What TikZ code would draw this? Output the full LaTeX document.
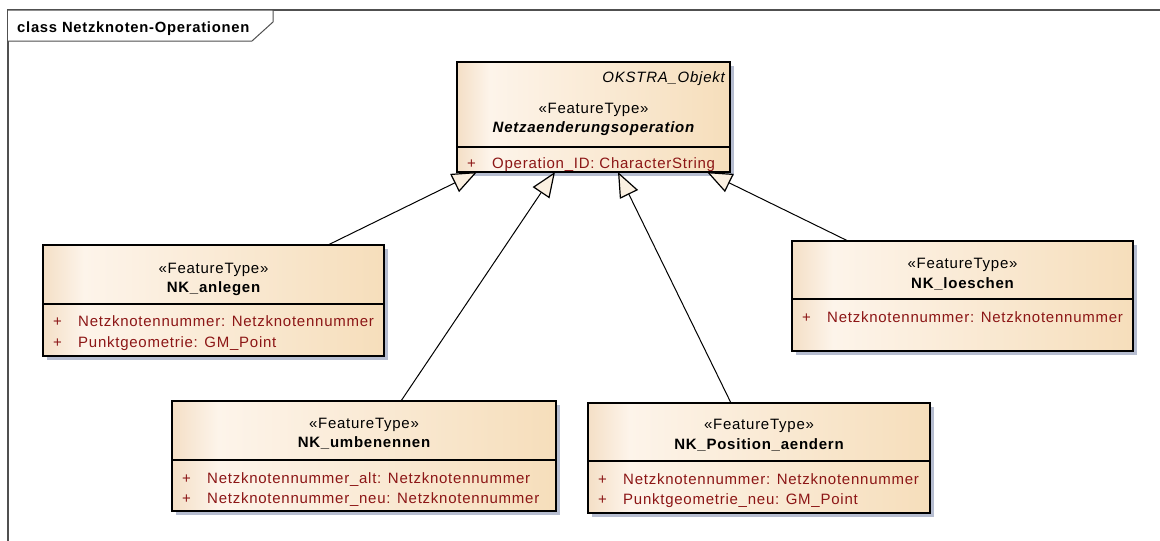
\documentclass[tikz,border=0pt]{standalone}
\usepackage{fontspec}
\setmainfont{Liberation Sans}
\newfontfamily\umlfont[LetterSpace=5.0]{Liberation Sans}
\usetikzlibrary{arrows.meta,shadows}
\definecolor{shA}{HTML}{F4DFC6}
\definecolor{shB}{HTML}{FDF4EA}
\definecolor{shC}{HTML}{F6DEBB}
\definecolor{shadowc}{HTML}{B6BDD0}
\definecolor{attrc}{RGB}{140,22,22}
\definecolor{arrowc}{HTML}{FBF0E1}
\definecolor{framec}{HTML}{505050}
\pgfdeclarehorizontalshading{boxshade}{100bp}{color(0bp)=(shA); color(25bp)=(shA); color(31bp)=(shB); color(75bp)=(shC); color(100bp)=(shC)}
\tikzset{
  classbox/.style={draw=black, line width=1.2pt, shading=boxshade, minimum width=#1, inner sep=0pt, outer sep=0pt,
    drop shadow={shadow xshift=4pt, shadow yshift=-4pt, fill=shadowc, opacity=1}},
  txt/.style={font=\umlfont\fontsize{15}{17}\selectfont, inner sep=0pt, anchor=base},
  stereo/.style={txt},
  cname/.style={txt, font=\umlfont\fontsize{15}{17}\selectfont\bfseries},
  attr/.style={txt, anchor=base west, text=attrc},
  divider/.style={draw=black, line width=1.2pt},
  gen/.style={draw=black, line width=1pt, -{Triangle[length=25pt,width=20pt,fill=arrowc,line width=1.2pt]}},
}
\newcommand{\attrline}[1]{\makebox[25pt][l]{+}#1}
\begin{document}
\begin{tikzpicture}[x=1pt,y=-1pt]
\useasboundingbox (0,0) rectangle (1160,541);
% frame
\draw[framec, line width=1.2pt] (8,541) -- (8,10) -- (1160,10);
\draw[framec, line width=1pt, fill=white] (8,10) -- (273,10) -- (273,22) -- (252,41) -- (8,41);
\node[txt, anchor=base west, font=\umlfont\fontsize{14.8}{17}\selectfont\bfseries] (title) at (17,32) {class Netzknoten-Operationen};

% main class
\node[classbox=273pt, minimum height=110pt] (main) at (593.5,117) {};
\draw[divider] ([yshift=-85pt]main.north west) -- ([yshift=-85pt]main.north east);
\node[txt, anchor=base east, font=\umlfont\fontsize{15}{17}\selectfont\itshape] (mainparent) at (725,82) {OKSTRA\_Objekt};
\node[stereo] (mainst) at (593.5,113) {«FeatureType»};
\node[cname, font=\umlfont\fontsize{15}{17}\selectfont\bfseries\itshape] (mainname) at (593.5,132) {Netzaenderungsoperation};
\node[attr] (maina1) at (467,168) {\attrline{Operation\_ID: CharacterString}};

% NK_anlegen
\node[classbox=341pt, minimum height=111pt] (anl) at (213.5,300.5) {};
\draw[divider] ([yshift=-59pt]anl.north west) -- ([yshift=-59pt]anl.north east);
\node[stereo] (anlst) at (213.5,273) {«FeatureType»};
\node[cname] (anlname) at (213.5,292) {NK\_anlegen};
\node[attr] (anla1) at (53,326) {\attrline{Netzknotennummer: Netzknotennummer}};
\node[attr] (anla2) at (53,347) {\attrline{Punktgeometrie: GM\_Point}};

% NK_loeschen
\node[classbox=341pt, minimum height=110pt] (loe) at (962.5,296) {};
\draw[divider] ([yshift=-58pt]loe.north west) -- ([yshift=-58pt]loe.north east);
\node[stereo] (loest) at (962.5,268) {«FeatureType»};
\node[cname] (loename) at (962.5,288) {NK\_loeschen};
\node[attr] (loea1) at (802,322) {\attrline{Netzknotennummer: Netzknotennummer}};

% NK_umbenennen
\node[classbox=384pt, minimum height=110pt] (umb) at (364,456) {};
\draw[divider] ([yshift=-59pt]umb.north west) -- ([yshift=-59pt]umb.north east);
\node[stereo] (umbst) at (364,428) {«FeatureType»};
\node[cname] (umbname) at (364,447) {NK\_umbenennen};
\node[attr] (umba1) at (182,483) {\attrline{Netzknotennummer\_alt: Netzknotennummer}};
\node[attr] (umba2) at (182,503) {\attrline{Netzknotennummer\_neu: Netzknotennummer}};

% NK_Position_aendern
\node[classbox=342pt, minimum height=110pt] (pos) at (759,458) {};
\draw[divider] ([yshift=-58pt]pos.north west) -- ([yshift=-58pt]pos.north east);
\node[stereo] (posst) at (759,429) {«FeatureType»};
\node[cname] (posname) at (759,449) {NK\_Position\_aendern};
\node[attr] (posa1) at (598,484) {\attrline{Netzknotennummer: Netzknotennummer}};
\node[attr] (posa2) at (598,504) {\attrline{Punktgeometrie\_neu: GM\_Point}};

% generalizations
\draw[gen] ([xshift=285pt]anl.north west) -- ([xshift=20pt]main.south west);
\draw[gen] ([xshift=229pt]umb.north west) -- ([xshift=98pt]main.south west);
\draw[gen] ([xshift=143pt]pos.north west) -- ([xshift=161pt]main.south west);
\draw[gen] ([xshift=56pt]loe.north west) -- ([xshift=250pt]main.south west);
\end{tikzpicture}
\end{document}
